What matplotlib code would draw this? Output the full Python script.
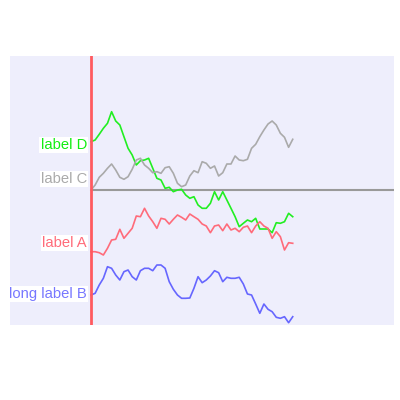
import matplotlib
matplotlib.use("Agg")
import matplotlib.pyplot as plt

plt.rcParams['font.family'] = ['Liberation Sans', 'DejaVu Sans']

steps = list(range(50))

series_d = [48.3, 50, 55.7, 61.7, 66.7, 78.3, 69, 65, 53.3, 41.7,
            35, 25, 29.3, 30, 31.7, 21.7, 11.7, 10, 1.7, 2.7,
            -1.7, 0, 0.7, -5, -8.3, -6.7, -15, -18.3, -18.3, -13.3,
            -1.7, -10, -1.7, -10, -18.3, -26.7, -36.7, -33.3, -30, -31.7,
            -28.3, -39, -39, -39, -42.7, -32.7, -33.3, -31.7, -23.3, -26.7]
series_c = [0, 5, 12.7, 16.7, 21.7, 26, 20, 12.7, 10.7, 13.3,
            20.7, 30, 31.7, 25, 21.7, 17.3, 18.3, 16.7, 22.3, 23.3,
            16.7, 6.7, 3.3, 5, 14, 19.3, 17.3, 28.3, 26.7, 21.7,
            24, 14, 17.3, 26, 26, 34, 30, 29.3, 30.7, 41.7,
            45.7, 53.3, 60, 66, 69, 65, 56.7, 52.7, 42.7, 50.7]
series_a = [-61.7, -61.7, -62.7, -65, -58.3, -50, -49.3, -39.3, -48.3, -43.3,
            -38.3, -26, -26.7, -18.3, -26, -31.7, -38.3, -28.3, -29.3, -34,
            -29.3, -25, -27.3, -30, -24, -26.7, -29.3, -34, -36, -42.7,
            -36, -35, -40.7, -34, -40, -38.3, -41.7, -37.3, -36, -42.7,
            -36, -31.7, -36, -38.3, -48.3, -41.7, -46.7, -60, -52.7, -53.3]
series_b = [-105, -103.3, -95, -88.3, -76.7, -78.3, -85, -90, -81.7, -80,
            -86.7, -90, -80.7, -78.3, -78.3, -80.7, -75, -75, -78.3, -91.7,
            -99.3, -105, -108.3, -108.3, -108, -98.3, -86.7, -92.7, -90, -86,
            -80.7, -82.7, -91.7, -87.3, -88.3, -88.3, -87.3, -94, -104, -105,
            -114, -123.3, -114, -119.3, -121.7, -127.3, -128.3, -126.7, -132.7, -126.7]

labels = ["label D", "label C", "label A", "long label B"]
label_y = [45, 11, -53, -104]
line_colors = ["#22ee22", "#aaaaaa", "#ff6b7a", "#6666ff"]
text_colors = ["#11ee11", "#aaaaaa", "#ff6b7a", "#7777ff"]

fig = plt.figure(figsize=(4, 4), dpi=100)
ax = fig.add_axes([9.5 / 400, 1 - 325 / 400, (394 - 9.5) / 400, (325 - 55.5) / 400])
ax.set_facecolor("#eeeefc")
x_lo, x_hi = -19.8, 73.6
ax.set_xlim(x_lo, x_hi)
ax.set_ylim(-135, 134.5)

ax.hlines(0, 0, x_hi, color="#999999", linewidth=1.5, zorder=1)
for vals, col in zip([series_d, series_c, series_a, series_b], line_colors):
    ax.plot(steps, vals, color=col, linewidth=1.2, zorder=2)
ax.axvline(0, color="#ff5a5f", linewidth=2, zorder=3)

for lab, yv, col in zip(labels, label_y, text_colors):
    ax.annotate(lab, xy=(0, yv), xytext=(-4, 0), textcoords="offset pixels",
                ha="right", va="center", fontsize=10.6, color=col,
                bbox=dict(facecolor="white", edgecolor="none", pad=0.8), zorder=4)

ax.set_xticks([])
ax.set_yticks([])
for s in ax.spines.values():
    s.set_visible(False)

fig.savefig("out.png", dpi=100)
